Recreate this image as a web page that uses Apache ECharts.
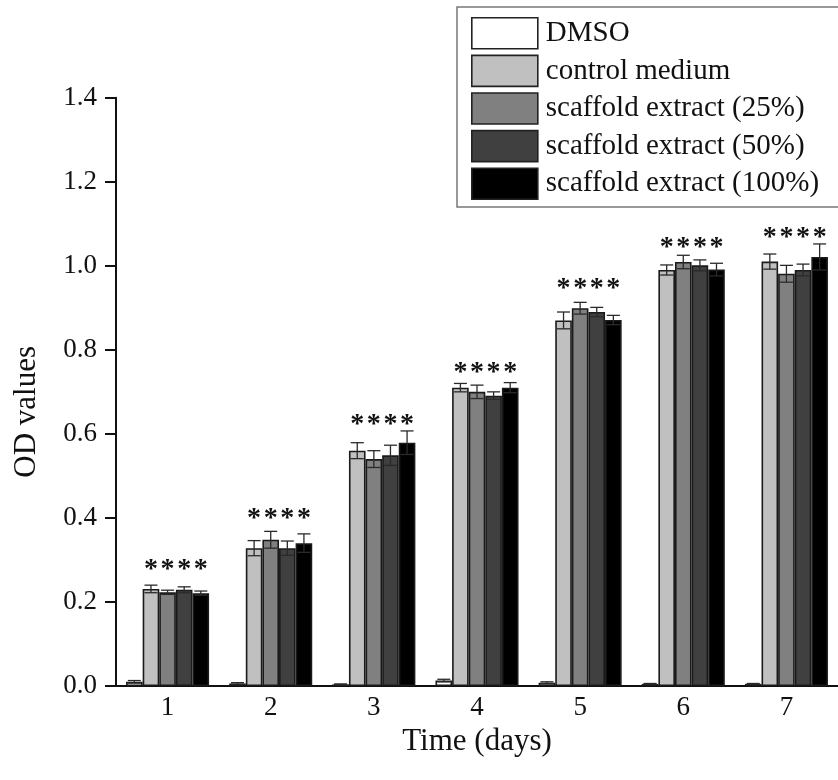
<!DOCTYPE html>
<html>
<head>
<meta charset="utf-8">
<script src="https://cdn.jsdelivr.net/npm/echarts@6/dist/echarts.min.js"></script>
<style>html,body{margin:0;padding:0;background:#fff}#c{width:838px;height:780px}</style>
</head>
<body>
<div id="c"></div>
<script>
const days = ['1','2','3','4','5','6','7'];
const seriesNames = ['DMSO','control medium','scaffold extract (25%)','scaffold extract (50%)','scaffold extract (100%)'];
const dmso      = [0.010, 0.006, 0.004, 0.013, 0.008, 0.005, 0.005];
const control   = [0.231, 0.328, 0.560, 0.710, 0.870, 0.990, 1.010];
const ext25     = [0.223, 0.348, 0.540, 0.700, 0.899, 1.009, 0.981];
const ext50     = [0.229, 0.328, 0.549, 0.691, 0.890, 1.001, 0.990];
const ext100    = [0.221, 0.340, 0.579, 0.710, 0.871, 0.991, 1.021];
const dmsoErr   = [0.003, 0.002, 0.001, 0.003, 0.002, 0.001, 0.001];
const controlErr= [0.009, 0.018, 0.019, 0.010, 0.020, 0.012, 0.018];
const ext25Err  = [0.005, 0.020, 0.020, 0.016, 0.014, 0.016, 0.020];
const ext50Err  = [0.007, 0.017, 0.024, 0.009, 0.011, 0.013, 0.014];
const ext100Err = [0.005, 0.022, 0.028, 0.012, 0.011, 0.015, 0.031];
const starLevel = [0.293, 0.415, 0.638, 0.762, 0.961, 1.060, 1.084];
const starText  = '*';
const yTicks = { min: 0, max: 1.4, interval: 0.2 };

const colors = ['#ffffff','#c0c0c0','#808080','#404040','#000000'];
const values = [dmso, control, ext25, ext50, ext100];
const errs = [dmsoErr, controlErr, ext25Err, ext50Err, ext100Err];
const FONT = "'Liberation Serif','Times New Roman',serif";
const CAT_GAP = 0.195;

const errData = [];
values.forEach((arr, s) => arr.forEach((v, d) => errData.push([d, s, v, errs[s][d]])));
const starData = starLevel.map((v, d) => [d, v]);

const barSeries = values.map((arr, s) => ({
  name: seriesNames[s],
  type: 'bar',
  data: arr,
  barGap: '0%',
  barCategoryGap: (CAT_GAP * 100) + '%',
  itemStyle: { color: colors[s], borderColor: '#1a1a1a', borderWidth: 1.6 },
  z: 2
}));

const chart = echarts.init(document.getElementById('c'), null, { renderer: 'canvas' });
chart.setOption({
  animation: false,
  backgroundColor: '#fff',
  grid: { left: 116, top: 97.7, width: 727, bottom: 94, containLabel: false },
  legend: {
    data: seriesNames.map(n => ({ name: n, icon: 'rect' })),
    orient: 'vertical',
    left: 457, top: 7,
    padding: [10, 40, 7, 14],
    itemWidth: 66, itemHeight: 31, itemGap: 5,
    borderColor: '#777', borderWidth: 1.5,
    backgroundColor: '#fff',
    itemStyle: { borderColor: '#222', borderWidth: 1.6 },
    textStyle: { fontFamily: FONT, fontSize: 29, color: '#111', padding: [0, 0, 0, 3] }
  },
  xAxis: {
    type: 'category',
    data: days,
    name: 'Time (days)',
    nameLocation: 'middle',
    nameGap: 31,
    nameTextStyle: { fontFamily: FONT, fontSize: 31, color: '#111' },
    axisLine: { lineStyle: { color: '#111', width: 2 } },
    axisTick: { show: false },
    axisLabel: { fontFamily: FONT, fontSize: 27, color: '#111', margin: 8 },
    splitLine: { show: false }
  },
  yAxis: {
    type: 'value',
    min: yTicks.min, max: yTicks.max, interval: yTicks.interval,
    name: 'OD values',
    nameLocation: 'middle',
    nameRotate: 90,
    nameGap: 74,
    nameTextStyle: { fontFamily: FONT, fontSize: 31, color: '#111', padding: [0, 40, 0, 0] },
    axisLine: { show: true, lineStyle: { color: '#111', width: 2 } },
    axisTick: { show: true, length: 11, lineStyle: { color: '#111', width: 2 } },
    axisLabel: { fontFamily: FONT, fontSize: 27, color: '#111', margin: 19, formatter: v => v.toFixed(1) },
    splitLine: { show: false }
  },
  series: barSeries.concat([
    {
      type: 'custom',
      name: 'err',
      data: errData,
      z: 5,
      silent: true,
      renderItem: (params, api) => {
        const d = api.value(0), s = api.value(1), v = api.value(2), e = api.value(3);
        const band = api.size([1, 0])[0];
        const bw = band * (1 - CAT_GAP) / 5;
        const cx = api.coord([d, v])[0] + (s - 2) * bw;
        const yT = api.coord([d, v + e])[1];
        const yB = api.coord([d, v - e])[1];
        const cap = 6.5;
        const st = { stroke: '#2a2a2a', lineWidth: 1.3 };
        return { type: 'group', children: [
          { type: 'line', shape: { x1: cx, y1: yT, x2: cx, y2: yB }, style: st },
          { type: 'line', shape: { x1: cx - cap, y1: yT, x2: cx + cap, y2: yT }, style: st },
          { type: 'line', shape: { x1: cx - cap, y1: yB, x2: cx + cap, y2: yB }, style: st }
        ]};
      }
    },
    {
      type: 'custom',
      name: 'stars',
      data: starData,
      z: 6,
      silent: true,
      renderItem: (params, api) => {
        const d = api.value(0), v = api.value(1);
        const band = api.size([1, 0])[0];
        const bw = band * (1 - CAT_GAP) / 5;
        const p = api.coord([d, v]);
        const children = [];
        for (let k = 1; k <= 4; k++) {
          children.push({ type: 'text', style: {
            text: starText, x: p[0] + (k - 2) * bw, y: p[1] + 7,
            align: 'center', verticalAlign: 'middle',
            font: 'bold 28px ' + FONT, fill: '#111'
          }});
        }
        return { type: 'group', children };
      }
    }
  ])
});
</script>
</body>
</html>
